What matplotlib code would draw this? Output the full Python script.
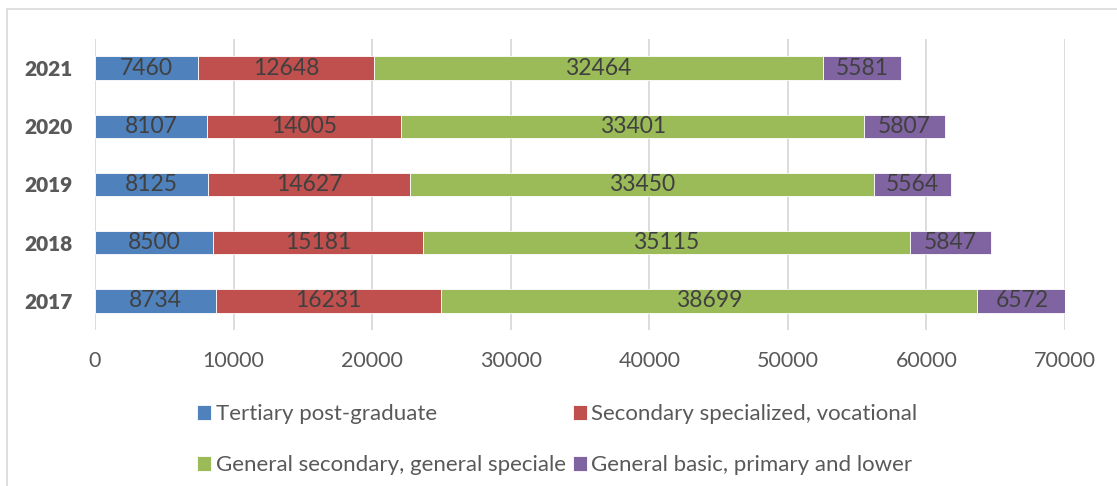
import matplotlib
matplotlib.use("Agg")
import matplotlib.pyplot as plt
from matplotlib.patches import Rectangle

years = ["2017", "2018", "2019", "2020", "2021"]
tertiary = [8734, 8500, 8125, 8107, 7460]
secondary_spec = [16231, 15181, 14627, 14005, 12648]
general_secondary = [38699, 35115, 33450, 33401, 32464]
general_basic = [6572, 5847, 5564, 5807, 5581]

series_names = ["Tertiary post-graduate", "Secondary specialized, vocational",
                "General secondary, general speciale", "General basic, primary and lower"]
colors = ["#4F81BD", "#C0504D", "#9BBB59", "#8064A2"]
xticks = [0, 10000, 20000, 30000, 40000, 50000, 60000, 70000]

plt.rcParams['font.family'] = ['Lato', 'DejaVu Sans']

W, H = 1117, 486
fig = plt.figure(figsize=(W / 100, H / 100), dpi=100)
ax = fig.add_axes([95 / W, 1 - 330 / H, (1065 - 95) / W, (330 - 39) / H])

data = [tertiary, secondary_spec, general_secondary, general_basic]
ypos = list(range(len(years)))
left = [0] * len(years)
handles = []
for vals, name, col in zip(data, series_names, colors):
    bars = ax.barh(ypos, vals, left=left, height=0.4, color=col, edgecolor="white",
                   linewidth=0.6, label=name, zorder=3)
    handles.append(bars)
    for y, v, l in zip(ypos, vals, left):
        ax.text(l + v / 2, y, str(v), ha="center", va="center", fontsize=16.5,
                color="#404040", zorder=4)
    left = [a + b for a, b in zip(left, vals)]

ax.set_xlim(0, 70000)
ax.set_ylim(-0.5, len(years) - 0.5)
ax.set_xticks(xticks)
ax.set_xticklabels([str(t) for t in xticks], fontsize=15.5, color="#595959")
ax.set_yticks(ypos)
ax.set_yticklabels(years, fontsize=15, fontweight="heavy", color="#595959")
ax.tick_params(axis="x", length=0, pad=15)
ax.tick_params(axis="y", length=0, pad=16)
ax.grid(axis="x", color="#D9D9D9", linewidth=1.3, zorder=0)
for s in ax.spines.values():
    s.set_visible(False)

order = [0, 2, 1, 3]
leg = fig.legend([handles[i] for i in order], [series_names[i] for i in order],
                 ncol=2, frameon=False, loc="upper left",
                 bbox_to_anchor=(197 / W, 1 - 404 / H), fontsize=16,
                 handlelength=0.65, handleheight=0.65, handletextpad=0.2,
                 columnspacing=0.3, labelspacing=1.4, borderaxespad=0, borderpad=0)
for t in leg.get_texts():
    t.set_color("#595959")

fig.patches.append(Rectangle((7 / W, -0.1), 1.2, 1.1 - 9 / H, transform=fig.transFigure,
                             fill=False, edgecolor="#D9D9D9", linewidth=1.2))

fig.savefig("out.png", dpi=100, facecolor="white")
